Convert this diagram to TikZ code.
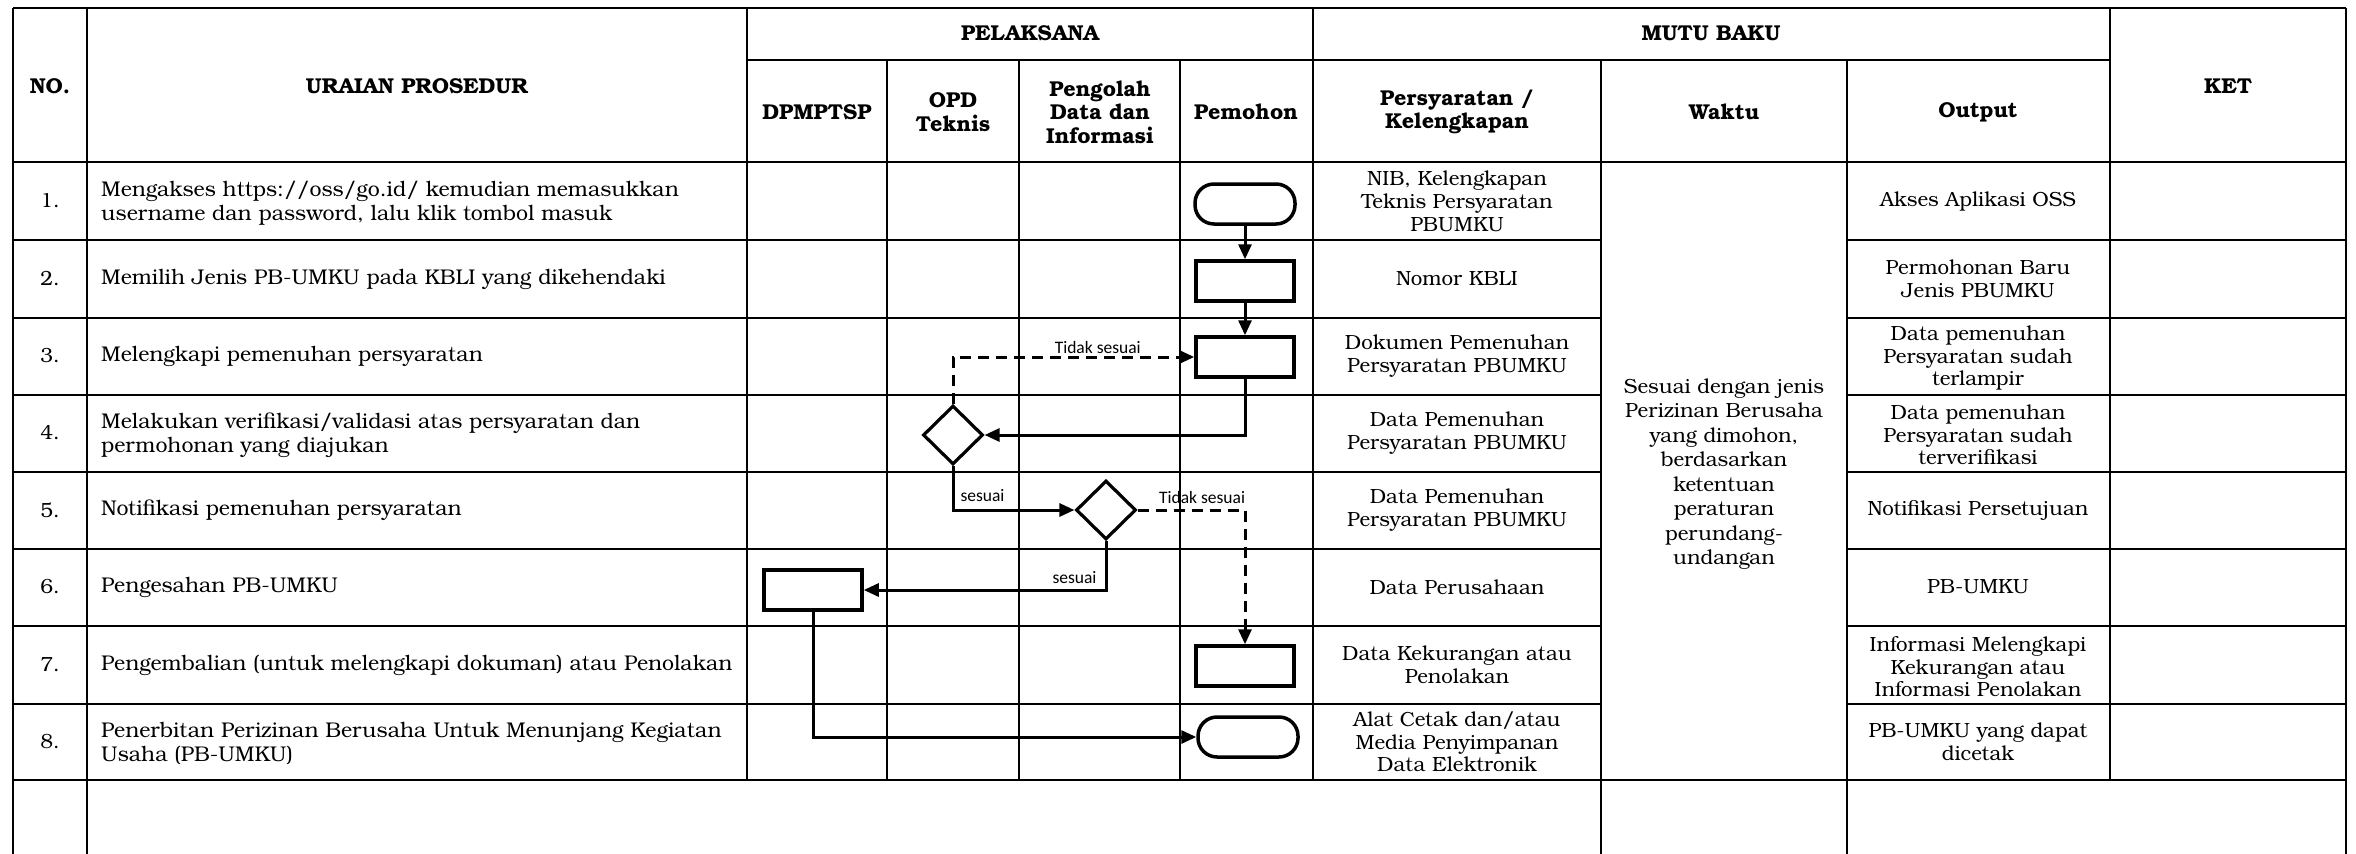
\documentclass[tikz,border=0pt]{standalone}
\usepackage{fontspec}
\setmainfont{TeX Gyre Bonum}
\newfontfamily\labelfont{Carlito}
\usepackage{tikz}
\usetikzlibrary{positioning, shapes, arrows.meta}

\begin{document}
\begin{tikzpicture}[
    x=1pt, y=-1pt,
    >={Triangle[length=15pt,width=13pt]},
    grid/.style={line width=2pt},
    head/.style={font=\fontsize{21.5}{23.5}\selectfont\bfseries, align=center},
    cell/.style={font=\fontsize{20.5}{23}\selectfont, align=center},
    tight/.style={font=\fontsize{20.5}{22.5}\selectfont, align=center},
    prosedur/.style={font=\fontsize{21.3}{24}\selectfont, align=left, anchor=west, inner sep=0pt},
    process/.style={rectangle, draw, line width=3.5pt, minimum width=98pt, minimum height=40pt},
    terminal/.style={rectangle, draw, line width=3.5pt, rounded corners=19pt, minimum width=100pt, minimum height=40pt},
    decision/.style={diamond, draw, line width=3.2pt, inner sep=0pt, minimum width=60pt, minimum height=59pt},
    flow/.style={line width=3pt, ->},
    dashflow/.style={line width=3pt, ->, dash pattern=on 11pt off 7pt},
    note/.style={font=\labelfont\fontsize{17.5}{19}\selectfont, inner sep=2pt}
]

\useasboundingbox (0,0) rectangle (2356,854);

% table lines
\draw[grid] (13,8) -- (2346,8);
\draw[grid] (747,60) -- (2110,60);
\draw[grid] (13,162) -- (2346,162);
\draw[grid] (13,240) -- (1601,240) (1847,240) -- (2346,240);
\draw[grid] (13,318) -- (1601,318) (1847,318) -- (2346,318);
\draw[grid] (13,395) -- (1601,395) (1847,395) -- (2346,395);
\draw[grid] (13,472) -- (1601,472) (1847,472) -- (2346,472);
\draw[grid] (13,549) -- (1601,549) (1847,549) -- (2346,549);
\draw[grid] (13,626) -- (1601,626) (1847,626) -- (2346,626);
\draw[grid] (13,704) -- (1601,704) (1847,704) -- (2346,704);
\draw[line width=2.6pt] (13,780) -- (2346,780);
\draw[grid] (13,8) -- (13,854);
\draw[grid] (87,8) -- (87,854);
\draw[grid] (747,8) -- (747,780);
\draw[grid] (887,60) -- (887,780);
\draw[grid] (1019,60) -- (1019,780);
\draw[grid] (1180,60) -- (1180,780);
\draw[grid] (1313,8) -- (1313,780);
\draw[grid] (1601,60) -- (1601,854);
\draw[grid] (1847,60) -- (1847,854);
\draw[grid] (2110,8) -- (2110,780);
\draw[grid] (2346,8) -- (2346,854);

% header
\node[head] (no) at (50,86) {NO.};
\node[head] (uraian) at (417,86) {URAIAN PROSEDUR};
\node[head] (pelaksana) at (1030,33) {PELAKSANA};
\node[head] (mutu) at (1711,33) {MUTU BAKU};
\node[head] (dpm) at (817,112) {DPMPTSP};
\node[head] (opd) at (953,112) {OPD\\Teknis};
\node[head] (olah) at (1100,112) {Pengolah\\Data dan\\Informasi};
\node[head] (mohon) at (1246,112) {Pemohon};
\node[head] (syarat) at (1457,112) {Persyaratan /\\Kelengkapan};
\node[head] (waktu) at (1724,112) {Waktu};
\node[head] (output) at (1978,112) {Output};
\node[head] (ket) at (2228,86) {KET};

% nomor
\node[cell] (no1) at (50,201) {1.};
\node[cell] (no2) at (50,279) {2.};
\node[cell] (no3) at (50,356) {3.};
\node[cell] (no4) at (50,433) {4.};
\node[cell] (no5) at (50,510) {5.};
\node[cell] (no6) at (50,587) {6.};
\node[cell] (no7) at (50,665) {7.};
\node[cell] (no8) at (50,742) {8.};

% uraian prosedur
\node[prosedur] (ur1) at (101,203) {Mengakses https://oss/go.id/ kemudian memasukkan\\username dan password, lalu klik tombol masuk};
\node[prosedur] (ur2) at (101,279) {Memilih Jenis PB-UMKU pada KBLI yang dikehendaki};
\node[prosedur] (ur3) at (101,356) {Melengkapi pemenuhan persyaratan};
\node[prosedur] (ur4) at (101,435) {Melakukan verifikasi/validasi atas persyaratan dan\\permohonan yang diajukan};
\node[prosedur] (ur5) at (101,510) {Notifikasi pemenuhan persyaratan};
\node[prosedur] (ur6) at (101,587) {Pengesahan PB-UMKU};
\node[prosedur] (ur7) at (101,665) {Pengembalian (untuk melengkapi dokuman) atau Penolakan};
\node[prosedur] (ur8) at (101,743) {Penerbitan Perizinan Berusaha Untuk Menunjang Kegiatan\\Usaha (PB-UMKU)};

% persyaratan
\node[cell] (sy1) at (1457,201) {NIB, Kelengkapan\\Teknis Persyaratan\\PBUMKU};
\node[cell] (sy2) at (1457,279) {Nomor KBLI};
\node[cell] (sy3) at (1457,356) {Dokumen Pemenuhan\\Persyaratan PBUMKU};
\node[cell] (sy4) at (1457,433) {Data Pemenuhan\\Persyaratan PBUMKU};
\node[cell] (sy5) at (1457,510) {Data Pemenuhan\\Persyaratan PBUMKU};
\node[cell] (sy6) at (1457,587) {Data Perusahaan};
\node[cell] (sy7) at (1457,665) {Data Kekurangan atau\\Penolakan};
\node[tight] (sy8) at (1457,742) {Alat Cetak dan/atau\\Media Penyimpanan\\Data Elektronik};

% waktu
\node[cell, font=\fontsize{20.5}{24.5}\selectfont] (wkt) at (1724,474) {Sesuai dengan jenis\\Perizinan Berusaha\\yang dimohon,\\berdasarkan\\ketentuan\\peraturan\\perundang-\\undangan};

% output
\node[cell] (out1) at (1978,201) {Akses Aplikasi OSS};
\node[cell] (out2) at (1978,279) {Permohonan Baru\\Jenis PBUMKU};
\node[tight] (out3) at (1978,358) {Data pemenuhan\\Persyaratan sudah\\terlampir};
\node[tight] (out4) at (1978,435) {Data pemenuhan\\Persyaratan sudah\\terverifikasi};
\node[cell] (out5) at (1978,510) {Notifikasi Persetujuan};
\node[cell] (out6) at (1978,587) {PB-UMKU};
\node[tight] (out7) at (1978,667) {Informasi Melengkapi\\Kekurangan atau\\Informasi Penolakan};
\node[cell] (out8) at (1978,742) {PB-UMKU yang dapat\\dicetak};

% flowchart
\node[terminal] (mulai) at (1245,204) {};
\node[process] (pilih) at (1245,281) {};
\node[process] (lengkapi) at (1245,357) {};
\node[decision] (verif) at (953,435) {};
\node[decision] (notif) at (1106,510) {};
\node[process] (sah) at (813,590) {};
\node[process] (kembali) at (1245,666) {};
\node[terminal] (terbit) at (1248,737) {};

\draw[flow] (mulai) -- (pilih);
\draw[flow] (pilih) -- (lengkapi);
\draw[flow] (lengkapi.south) |- (verif.east);
\draw[dashflow] (verif.north) |- node[note, pos=0.8, above] {Tidak sesuai} (lengkapi.west);
\draw[flow] (verif.south) |- node[note, pos=0.5, above right, xshift=4pt, yshift=5pt] {sesuai} (notif.west);
\draw[dashflow] (notif.east) -| node[note, pos=0.3, above, yshift=3pt] {Tidak sesuai} (kembali.north);
\draw[flow] (notif.south) |- node[note, pos=0.5, above left, xshift=-6pt, yshift=3pt] {sesuai} (sah.east);
\draw[flow] (sah.south) |- (terbit.west);

\end{tikzpicture}
\end{document}
